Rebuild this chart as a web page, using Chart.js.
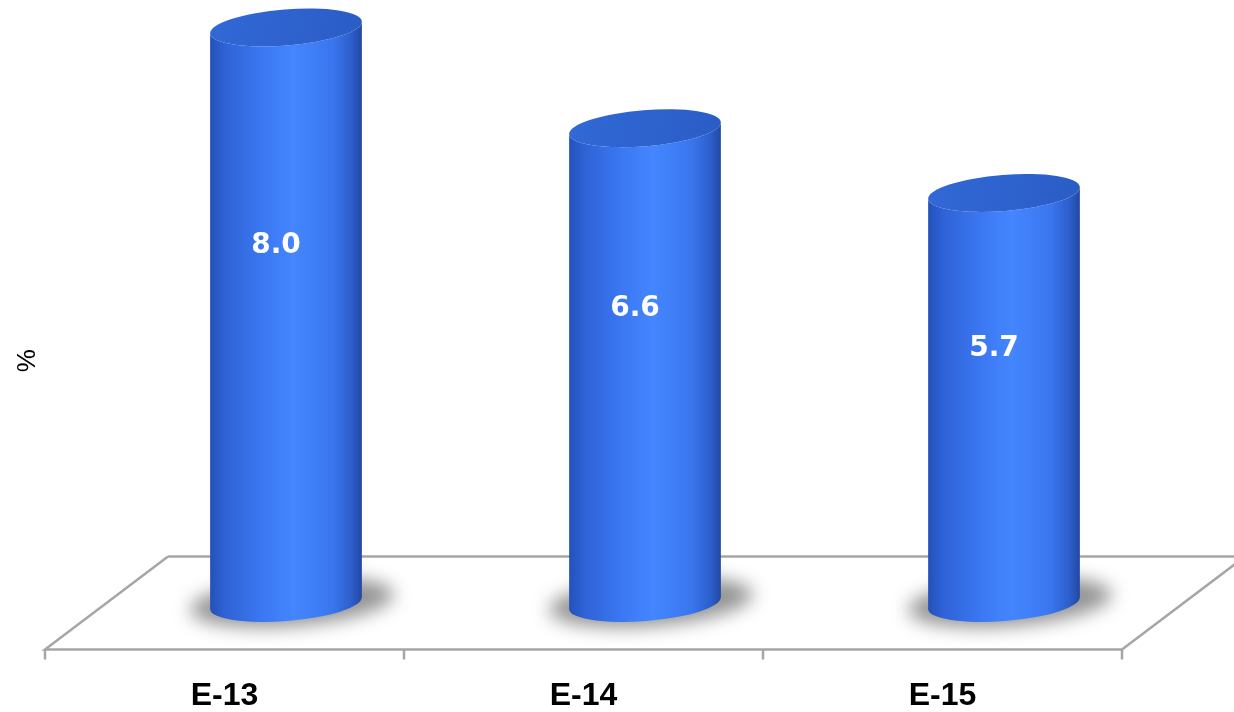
<!DOCTYPE html>
<html>
<head>
<meta charset="utf-8">
<script src="https://cdn.jsdelivr.net/npm/chart.js@4.4.1/dist/chart.umd.min.js"></script>
<style>
  html, body { margin: 0; padding: 0; background: #fff; }
  #wrap { width: 1234px; height: 712px; }
</style>
</head>
<body>
<div id="wrap"><canvas id="barChart"></canvas></div>
<script>
const categories = ['E-13', 'E-14', 'E-15'];
const values = [8.0, 6.6, 5.7];
const yTitle = '%';

// floor depth (perspective offset of the back edge)
const DEPTH_X = 123;
const DEPTH_Y = 93;
const TILT = -0.08; // slight rotation of the ellipses
const RY = 18;

function ellipsePoint(cx, cy, rx, ry, t) {
    const c = Math.cos(TILT), s = Math.sin(TILT);
    const px = rx * Math.cos(t), py = ry * Math.sin(t);
    return [cx + px * c - py * s, cy + px * s + py * c];
}

const cylinderPlugin = {
    id: 'cylinders',
    beforeDatasetsDraw(chart) {
        const { ctx, chartArea: a } = chart;
        ctx.save();
        ctx.strokeStyle = '#a6a6a6';
        ctx.lineWidth = 2.5;
        ctx.beginPath();
        ctx.moveTo(a.left + DEPTH_X, a.bottom - DEPTH_Y);
        ctx.lineTo(a.left, a.bottom);
        ctx.lineTo(a.right, a.bottom);
        ctx.lineTo(a.right + DEPTH_X, a.bottom - DEPTH_Y);
        ctx.moveTo(a.left + DEPTH_X, a.bottom - DEPTH_Y);
        ctx.lineTo(a.right + DEPTH_X, a.bottom - DEPTH_Y);
        // tick marks at category boundaries
        const step = (a.right - a.left) / categories.length;
        for (let i = 0; i <= categories.length; i++) {
            const x = a.left + i * step;
            ctx.moveTo(x, a.bottom);
            ctx.lineTo(x, a.bottom + 10);
        }
        ctx.stroke();

        // y axis title
        ctx.translate(28, (a.top + a.bottom) / 2 + 17);
        ctx.rotate(-Math.PI / 2);
        ctx.fillStyle = '#000';
        ctx.font = '26px "Liberation Sans", Arial, sans-serif';
        ctx.textAlign = 'center';
        ctx.textBaseline = 'middle';
        ctx.fillText(yTitle, 0, 0);
        ctx.restore();
    },
    afterDatasetsDraw(chart) {
        const { ctx } = chart;
        const meta = chart.getDatasetMeta(0);
        meta.data.forEach((bar, i) => {
            const cx = bar.x + DEPTH_X / 2;
            const topY = bar.y - DEPTH_Y / 2;
            const baseY = bar.base - DEPTH_Y / 2;
            const rx = bar.width / 2;

            ctx.save();
            // soft shadow on the floor
            ctx.filter = 'blur(9px)';
            ctx.fillStyle = 'rgba(0,0,0,0.42)';
            ctx.beginPath();
            ctx.ellipse(cx + 6, baseY - 1, rx + 26, RY + 6, TILT, 0, Math.PI * 2);
            ctx.fill();
            ctx.filter = 'none';

            // body
            const grad = ctx.createLinearGradient(cx - rx, 0, cx + rx, 0);
            grad.addColorStop(0, '#2451b8');
            grad.addColorStop(0.1, '#2f62d6');
            grad.addColorStop(0.35, '#3b78f2');
            grad.addColorStop(0.55, '#4486ff');
            grad.addColorStop(0.8, '#3a77ef');
            grad.addColorStop(0.93, '#2d5ecc');
            grad.addColorStop(1, '#22489f');
            const tl = ellipsePoint(cx, topY, rx, RY, Math.PI);
            const bl = ellipsePoint(cx, baseY, rx, RY, Math.PI);
            const tr = ellipsePoint(cx, topY, rx, RY, 0);
            ctx.fillStyle = grad;
            ctx.beginPath();
            ctx.moveTo(tl[0], tl[1]);
            ctx.lineTo(bl[0], bl[1]);
            ctx.ellipse(cx, baseY, rx, RY, TILT, Math.PI, 0, true);
            ctx.lineTo(tr[0], tr[1]);
            ctx.ellipse(cx, topY, rx, RY, TILT, 0, Math.PI, false);
            ctx.closePath();
            ctx.fill();

            // top cap
            const capGrad = ctx.createLinearGradient(cx - rx, topY - RY, cx + rx, topY + RY);
            capGrad.addColorStop(0, '#3169d6');
            capGrad.addColorStop(1, '#2b5cc6');
            ctx.fillStyle = capGrad;
            ctx.beginPath();
            ctx.ellipse(cx, topY, rx, RY, TILT, 0, Math.PI * 2);
            ctx.fill();

            // value label
            ctx.fillStyle = '#fff';
            ctx.font = 'bold 28px "DejaVu Sans", sans-serif';
            ctx.textAlign = 'center';
            ctx.textBaseline = 'middle';
            ctx.fillText(values[i].toFixed(1), cx - 10, topY + 0.38 * (baseY - topY));
            ctx.restore();
        });
    }
};

const barCanvas = document.getElementById('barChart');
if (barCanvas) {
    const barCtx = barCanvas.getContext('2d');
    new Chart(barCtx, {
        type: 'bar',
        data: {
            labels: categories,
            datasets: [{
                label: yTitle,
                data: values,
                backgroundColor: 'rgba(0,0,0,0)',
                borderWidth: 0,
                barPercentage: 0.424,
                categoryPercentage: 1
            }]
        },
        options: {
            responsive: true,
            maintainAspectRatio: false,
            animation: false,
            layout: {
                padding: { left: 45, right: 112, top: 38, bottom: -30 }
            },
            plugins: {
                legend: { display: false },
                tooltip: { enabled: false }
            },
            scales: {
                x: {
                    grid: { display: false, drawTicks: false },
                    border: { display: false },
                    ticks: {
                        color: '#000',
                        padding: 27,
                        font: { family: '"Liberation Sans", Arial, sans-serif', size: 32, weight: 'bold' }
                    }
                },
                y: {
                    display: false,
                    min: 0,
                    max: 8.5
                }
            }
        },
        plugins: [cylinderPlugin]
    });
} else {
    console.error('Bar chart canvas not found!');
}
</script>
</body>
</html>
